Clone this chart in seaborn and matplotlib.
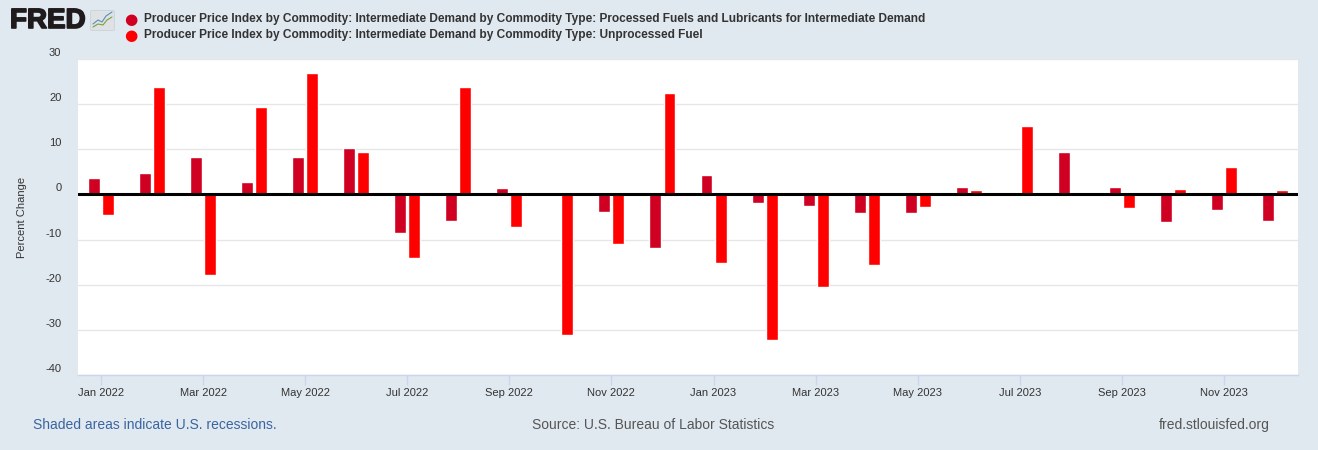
import numpy as np
import pandas as pd
import matplotlib
matplotlib.use("Agg")
import matplotlib.pyplot as plt
import matplotlib.patheffects as pe
from matplotlib.transforms import ScaledTranslation
from matplotlib.patches import FancyBboxPatch
from matplotlib.lines import Line2D
import seaborn as sns

# Donnees (variation en %, mois par mois)
months = ["Jan 2022", "Feb 2022", "Mar 2022", "Apr 2022", "May 2022", "Jun 2022",
          "Jul 2022", "Aug 2022", "Sep 2022", "Oct 2022", "Nov 2022", "Dec 2022",
          "Jan 2023", "Feb 2023", "Mar 2023", "Apr 2023", "May 2023", "Jun 2023",
          "Jul 2023", "Aug 2023", "Sep 2023", "Oct 2023", "Nov 2023", "Dec 2023"]
processed = [3.7, 4.8, 8.2, 2.8, 8.2, 10.2, -8.6, -5.8, 1.5, 0.4, -4.0, -11.9,
             4.4, -1.8, -2.6, -4.2, -4.2, 1.7, 0.0, 9.3, 1.7, -6.0, -3.4, -5.8]
unprocessed = [-4.5, 23.9, -17.8, 19.3, 26.8, 9.5, -14.0, 23.9, -7.2, -31.1, -11.0, 22.4,
               -15.1, -32.3, -20.5, -15.6, -2.7, 1.0, 15.1, 0.0, -3.1, 1.3, 6.0, 1.0]
name_proc = "Producer Price Index by Commodity: Intermediate Demand by Commodity Type: Processed Fuels and Lubricants for Intermediate Demand"
name_unproc = "Producer Price Index by Commodity: Intermediate Demand by Commodity Type: Unprocessed Fuel"
tick_labels = months[::2]
y_ticks = [-40, -30, -20, -10, 0, 10, 20, 30]

dark_red = "#cf0021"
bright_red = "#ff0000"
bg = "#e1e9f0"

df = pd.DataFrame({
    "month": months * 2,
    "value": processed + unprocessed,
    "series": [name_proc] * len(months) + [name_unproc] * len(months),
})

sns.set_style("white")
plt.rcParams["font.family"] = ["Liberation Sans", "DejaVu Sans"]

fig = plt.figure(figsize=(13.18, 4.5), dpi=100, facecolor=bg)
ax = fig.add_axes([78 / 1318, 75 / 450, 1220 / 1318, 316 / 450])
ax.set_facecolor("white")

sns.barplot(data=df, x="month", y="value", hue="series", order=months,
            hue_order=[name_proc, name_unproc],
            palette={name_proc: dark_red, name_unproc: bright_red},
            width=0.55, gap=0.15, legend=False, saturation=1, ax=ax)

ax.set_xlim(-0.45, len(months) - 0.55)
ax.set_ylim(-40, 30)
ax.set_yticks(y_ticks)
ax.set_yticklabels([str(v) for v in y_ticks])
ax.yaxis.grid(True, color="#e6e6e6", linewidth=1)
ax.set_axisbelow(True)
ax.axhline(0, color="black", linewidth=2.2, zorder=5)

ax.set_xticks(range(0, len(months), 2))
ax.set_xticklabels(tick_labels)
ax.tick_params(axis="x", bottom=True, direction="out", length=7.5, width=1,
               color="#ccd6eb", pad=1.5, labelsize=8, labelcolor="#333333")
ax.tick_params(axis="y", left=False, length=0, pad=12, labelsize=8, labelcolor="#333333")
for lab in ax.get_yticklabels():
    lab.set_transform(lab.get_transform() + ScaledTranslation(0, 5 / 72, fig.dpi_scale_trans))

for side in ["top", "left", "right"]:
    ax.spines[side].set_visible(False)
ax.spines["bottom"].set_color("#ccd6eb")
ax.spines["bottom"].set_linewidth(1)
ax.set_xlabel("")
ax.set_ylabel("Percent Change", fontsize=8, color="#333333", labelpad=13)

# en-tete : logo + legende
fig.text(10 / 1318, 1 - 21 / 450, "FRED", fontsize=20, fontweight="bold",
         color="#1f1b1c", va="center", ha="left",
         path_effects=[pe.withStroke(linewidth=1.2, foreground="#1f1b1c")])
icon = FancyBboxPatch((92 / 1318, 1 - 30 / 450), 21 / 1318, 19 / 450,
                      boxstyle="round,pad=0.001", transform=fig.transFigure,
                      facecolor="#dfe2e4", edgecolor="#c8cdd2", linewidth=0.5)
fig.patches.append(icon)
fig.add_artist(Line2D([93 / 1318, 98 / 1318, 102 / 1318, 106 / 1318, 112 / 1318],
                      [1 - 24 / 450, 1 - 20 / 450, 1 - 22 / 450, 1 - 16 / 450, 1 - 12 / 450],
                      transform=fig.transFigure, color="#5b8db8", linewidth=0.8))
fig.add_artist(Line2D([93 / 1318, 98 / 1318, 103 / 1318, 107 / 1318, 112 / 1318],
                      [1 - 27 / 450, 1 - 24 / 450, 1 - 25 / 450, 1 - 20 / 450, 1 - 17 / 450],
                      transform=fig.transFigure, color="#7aa23a", linewidth=0.8))
for lbl, col, yy in [(name_proc, dark_red, 19), (name_unproc, bright_red, 35)]:
    fig.text(131 / 1318, 1 - yy / 450, "\u25cf", fontsize=11, color=col,
             va="center", ha="center", family="DejaVu Sans")
    fig.text(144 / 1318, 1 - yy / 450, lbl, fontsize=8.55, fontweight="bold",
             color="#333333", va="center", ha="left",
             family=["Liberation Sans Narrow", "Liberation Sans"])

# pied de page
fig.text(33 / 1318, 1 - 425 / 450, "Shaded areas indicate U.S. recessions.",
         fontsize=10, color="#3a64a0", va="center", ha="left")
fig.text(653 / 1318, 1 - 425 / 450, "Source: U.S. Bureau of Labor Statistics",
         fontsize=10, color="#555555", va="center", ha="center")
fig.text(1270 / 1318, 1 - 425 / 450, "fred.stlouisfed.org",
         fontsize=10, color="#555555", va="center", ha="right")

fig.savefig("out.png", dpi=100, facecolor=bg)
